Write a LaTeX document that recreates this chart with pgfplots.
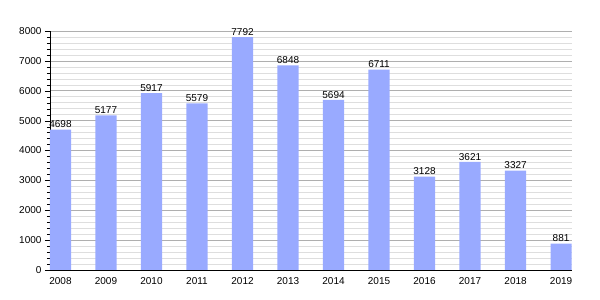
\documentclass[border=0pt]{standalone}
\usepackage{pgfplots}
\pgfplotsset{compat=1.18}
\usepackage{fontspec}
\setmainfont{Liberation Sans}
\definecolor{barblue}{RGB}{153,170,255}
\definecolor{majgrid}{RGB}{175,175,175}
\definecolor{mingrid}{RGB}{222,222,222}
\begin{document}
\begin{tikzpicture}
\useasboundingbox (-50pt,-30pt) rectangle (550pt,270pt);
\begin{axis}[
  at={(0,0)}, anchor=south west,
  scale only axis,
  width=522pt, height=239pt,
  xmin=-0.23, xmax=11.24,
  ymin=0, ymax=8000,
  axis x line*=bottom, axis y line*=left,
  axis line style={black, -},
  xtick={0,...,11},
  xticklabels={2008,2009,2010,2011,2012,2013,2014,2015,2016,2017,2018,2019},
  x tick label style={yshift=1pt},
  ytick={0,1000,...,8000},
  minor y tick num=4,
  major x tick style={draw=none},
  tick align=outside,
  major tick length=5pt,
  minor tick length=3pt,
  y tick style={black},
  ymajorgrids, yminorgrids,
  major grid style={majgrid, line width=0.6pt},
  minor grid style={mingrid, line width=0.5pt},
  tick label style={font=\fontsize{10}{12}\selectfont},
  /pgf/number format/assume math mode=true,
  /pgf/number format/1000 sep={},
  scaled y ticks=false,
  ybar, bar width=0.465,
  nodes near coords,
  every node near coord/.append style={font=\fontsize{10}{12}\selectfont, black, inner sep=1.5pt, /pgf/number format/1000 sep={}},
  axis on top=false,
]
\addplot[fill=barblue, draw=none, bar shift=0pt] coordinates {
(0,4698) (1,5177) (2,5917) (3,5579) (4,7792) (5,6848)
(6,5694) (7,6711) (8,3128) (9,3621) (10,3327) (11,881)
};
\end{axis}
\end{tikzpicture}
\end{document}
